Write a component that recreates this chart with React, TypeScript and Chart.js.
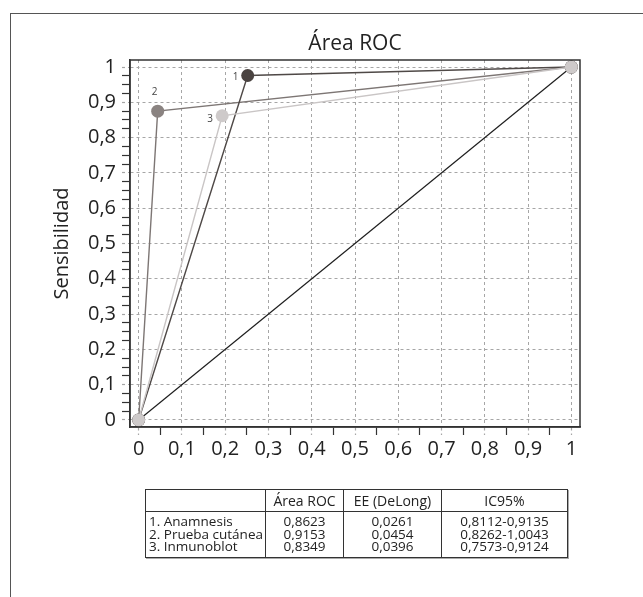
import React, { useEffect, useRef } from 'react';
import { Chart, registerables } from 'chart.js';

Chart.register(...registerables);

// ---------- data ----------
const seriesNames = ['1. Anamnesis', '2. Prueba cutánea', '3. Inmunoblot'];
const pointLabels = ['1', '2', '3'];
const falsePositiveRate = [0.252, 0.044, 0.193]; // 1 - especificidad
const sensitivity = [0.976, 0.875, 0.862];
const areaROC = ['0,8623', '0,9153', '0,8349'];
const eeDeLong = ['0,0261', '0,0454', '0,0396'];
const ic95 = ['0,8112-0,9135', '0,8262-1,0043', '0,7573-0,9124'];
const tableHeaders = ['', 'Área ROC', 'EE (DeLong)', 'IC95%'];

const majorTicks = [0, 0.1, 0.2, 0.3, 0.4, 0.5, 0.6, 0.7, 0.8, 0.9, 1];
const majorTickLabels = ['0', '0,1', '0,2', '0,3', '0,4', '0,5', '0,6', '0,7', '0,8', '0,9', '1'];

// ---------- style ----------
const FONT = "'Open Sans', 'Noto Sans', sans-serif";
const lineColors = ['#4f4947', '#7d7674', '#c9c5c5'];
const pointColors = ['#4a4341', '#8a8381', '#cecaca'];
const labelOffsets = [
  [-12, 2],
  [-3, -19],
  [-12, 3],
];

function subdivide(ticks: number[], parts: number): number[] {
  const out: number[] = [];
  for (let i = 0; i < ticks.length; i++) {
    out.push(ticks[i]);
    if (i < ticks.length - 1) {
      const step = (ticks[i + 1] - ticks[i]) / parts;
      for (let k = 1; k < parts; k++) out.push(ticks[i] + step * k);
    }
  }
  return out;
}

function majorIndex(v: number): number {
  for (let i = 0; i < majorTicks.length; i++) {
    if (Math.abs(majorTicks[i] - v) < 1e-6) return i;
  }
  return -1;
}

const isMajorCtx = (ctx: any) => ctx.tick && majorIndex(ctx.tick.value) >= 0;
const tickLabel = (v: number) => {
  const i = majorIndex(v);
  return i >= 0 ? majorTickLabels[i] : '';
};

function makeAxis(allTicks: number[], extra: any) {
  return {
    type: 'linear',
    min: -0.02,
    max: 1.02,
    afterBuildTicks: (scale: any) => {
      scale.ticks = allTicks.map((v) => ({ value: v }));
    },
    grid: {
      color: (ctx: any) => (isMajorCtx(ctx) ? '#a6a6a6' : 'rgba(0,0,0,0)'),
      tickColor: (ctx: any) => (isMajorCtx(ctx) ? '#a6a6a6' : '#333'),
      tickBorderDash: (ctx: any) => (isMajorCtx(ctx) ? [3, 3] : []),
      tickLength: 8,
      lineWidth: 1,
      tickWidth: 1.2,
    },
    border: { color: '#333', width: 1.5, dash: [3, 3] },
    ...extra,
  };
}

const boxPlugin = {
  id: 'plotBox',
  afterDraw(chart: any) {
    const { ctx, chartArea } = chart;
    ctx.save();
    ctx.strokeStyle = '#333';
    ctx.lineWidth = 1.5;
    ctx.strokeRect(chartArea.left, chartArea.top, chartArea.right - chartArea.left, chartArea.bottom - chartArea.top);
    ctx.restore();
  },
};

const pointLabelPlugin = {
  id: 'pointLabels',
  afterDatasetsDraw(chart: any) {
    const { ctx } = chart;
    ctx.save();
    ctx.font = `10px ${FONT}`;
    ctx.fillStyle = '#444';
    ctx.textAlign = 'center';
    ctx.textBaseline = 'middle';
    chart.data.datasets.forEach((ds: any, di: number) => {
      if (ds.seriesIndex === undefined) return;
      const meta = chart.getDatasetMeta(di);
      const el = meta.data[1];
      if (!el) return;
      const s = ds.seriesIndex;
      ctx.fillText(pointLabels[s], el.x + labelOffsets[s][0], el.y + labelOffsets[s][1]);
    });
    ctx.restore();
  },
};

export default function App() {
  const canvasRef = useRef<HTMLCanvasElement | null>(null);

  useEffect(() => {
    if (!canvasRef.current) return;
    const seriesDataset = (s: number) => ({
      label: seriesNames[s],
      seriesIndex: s,
      data: [
        { x: 0, y: 0 },
        { x: falsePositiveRate[s], y: sensitivity[s] },
        { x: 1, y: 1 },
      ],
      showLine: true,
      borderColor: lineColors[s],
      borderWidth: 1.4,
      pointRadius: 6.5,
      pointBackgroundColor: pointColors[s],
      pointBorderWidth: 0,
      pointBorderColor: pointColors[s],
    });
    const chart = new Chart(canvasRef.current, {
      type: 'scatter',
      data: {
        datasets: [
          seriesDataset(2),
          seriesDataset(0),
          seriesDataset(1),
          {
            label: 'Referencia',
            data: [
              { x: 0, y: 0 },
              { x: 1, y: 1 },
            ],
            showLine: true,
            borderColor: '#1e1e1e',
            borderWidth: 1.2,
            pointRadius: 0,
          } as any,
        ],
      },
      options: {
        animation: false,
        responsive: false,
        devicePixelRatio: 1,
        layout: { padding: { left: 10, right: 63, top: 0, bottom: 130 } },
        plugins: {
          legend: { display: false },
          tooltip: { enabled: false },
          title: {
            display: true,
            fullSize: false,
            text: 'Área ROC',
            color: '#222',
            font: { family: FONT, size: 21, weight: 'normal', lineHeight: 1.2 },
            padding: { top: 31, bottom: 3.8 },
          },
        },
        scales: {
          x: makeAxis(subdivide(majorTicks, 2), {
            afterFit: (scale: any) => {
              scale.height = 40;
            },
            ticks: {
              autoSkip: false,
              maxRotation: 0,
              color: '#222',
              padding: 2,
              font: { family: FONT, size: 20 },
              callback: tickLabel,
            },
          }),
          y: makeAxis(subdivide(majorTicks, 4), {
            afterFit: (scale: any) => {
              scale.width = 120;
            },
            ticks: {
              autoSkip: false,
              color: '#222',
              padding: 6,
              font: { family: FONT, size: 20 },
              callback: tickLabel,
            },
            title: {
              display: true,
              text: 'Sensibilidad',
              color: '#222',
              font: { family: FONT, size: 20, lineHeight: 1.2 },
              padding: { top: 40, bottom: 0 },
            },
          }),
        },
      } as any,
      plugins: [boxPlugin, pointLabelPlugin],
    });
    return () => chart.destroy();
  }, []);

  const border = '1px solid #333';
  const colWidths = [120, 78, 98, 126];

  return (
    <div
      style={{
        position: 'fixed',
        left: 0,
        top: 0,
        width: 643,
        height: 597,
        background: '#fff',
        overflow: 'hidden',
      }}
    >
      <div
        style={{
          position: 'absolute',
          left: 10,
          top: 13,
          width: 700,
          height: 700,
          borderLeft: '1.5px solid #555',
          borderTop: '1.5px solid #555',
        }}
      />
      <canvas ref={canvasRef} width={643} height={597} style={{ position: 'absolute', left: 0, top: 0 }} />
      <table
        style={{
          position: 'absolute',
          left: 145,
          top: 489,
          width: colWidths.reduce((a, b) => a + b, 0),
          borderCollapse: 'collapse',
          border,
          boxShadow: '1px 1px 0 #aaa',
          fontFamily: FONT,
          fontSize: 13.5,
          color: '#222',
          tableLayout: 'fixed',
        }}
      >
        <colgroup>
          {colWidths.map((w, i) => (
            <col key={i} style={{ width: w }} />
          ))}
        </colgroup>
        <thead>
          <tr style={{ height: 22 }}>
            {tableHeaders.map((h, i) => (
              <th
                key={i}
                style={{
                  fontWeight: 'normal',
                  fontSize: 14,
                  textAlign: 'center',
                  borderBottom: border,
                  borderLeft: i > 0 ? border : 'none',
                  padding: 0,
                  lineHeight: '15px',
                }}
              >
                {h}
              </th>
            ))}
          </tr>
        </thead>
        <tbody>
          {seriesNames.map((name, r) => {
            const pad = { paddingTop: r === 0 ? 3 : 0, paddingBottom: r === seriesNames.length - 1 ? 4 : 0 };
            const cell = (i: number) => ({
              borderLeft: i > 0 ? border : 'none',
              textAlign: i === 0 ? ('left' as const) : ('center' as const),
              paddingLeft: i === 0 ? 3 : 0,
              paddingRight: 0,
              lineHeight: '12.5px',
              whiteSpace: 'nowrap' as const,
              overflow: 'hidden',
              ...pad,
            });
            return (
              <tr key={r}>
                <td style={cell(0)}>{name}</td>
                <td style={cell(1)}>{areaROC[r]}</td>
                <td style={cell(2)}>{eeDeLong[r]}</td>
                <td style={cell(3)}>{ic95[r]}</td>
              </tr>
            );
          })}
        </tbody>
      </table>
    </div>
  );
}
